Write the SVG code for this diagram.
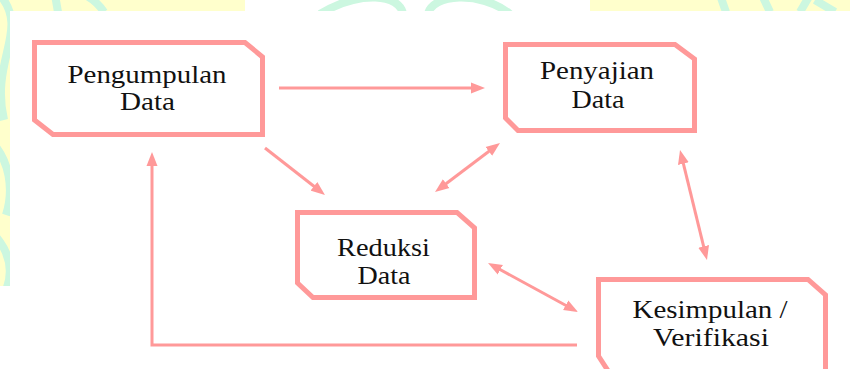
<svg xmlns="http://www.w3.org/2000/svg" width="850" height="369" viewBox="0 0 850 369">
  <style>
    .box { fill: #ffffff; stroke: #ff9999; stroke-width: 5; stroke-linejoin: miter; }
    .lbl { font-family: "Liberation Serif", "Times New Roman", serif; font-size: 26px; fill: #111111; text-anchor: middle; }
    .con { fill: none; stroke: #ff9999; stroke-width: 3; }
    .wm-y { fill: #ffffcc; }
    .wm-g { fill: none; stroke: #ccf7e0; stroke-width: 8; }
  </style>
  <defs>
    <marker id="ah" markerUnits="userSpaceOnUse" markerWidth="15" markerHeight="12" viewBox="0 0 15 12" refX="4" refY="6" orient="auto-start-reverse">
      <path d="M0,0.5 L14,6 L0,11.5 z" fill="#ff9999"/>
    </marker>
    <clipPath id="strip">
      <rect x="0" y="0" width="850" height="11"/>
      <rect x="0" y="0" width="10" height="286"/>
    </clipPath>
  </defs>

  <rect x="0" y="0" width="850" height="369" fill="#ffffff"/>

  <g id="watermark" clip-path="url(#strip)">
    <rect class="wm-y" x="0" y="0" width="245" height="11"/>
    <rect class="wm-y" x="590" y="0" width="260" height="11"/>
    <rect class="wm-y" x="0" y="0" width="10" height="286"/>
    <path class="wm-g" d="M0,-5 C30,30 -10,60 4,120"/>
    <path class="wm-g" d="M-10,140 C10,160 14,190 6,215"/>
    <path class="wm-g" d="M-10,230 C10,250 14,270 6,290"/>
    <path class="wm-g" d="M55,-5 L58,12"/>
    <path class="wm-g" d="M85,-5 C95,0 100,6 104,12"/>
    <path class="wm-g" d="M320,14 C360,-10 400,-6 403,14"/>
    <path class="wm-g" d="M428,14 C432,-6 480,-10 510,14"/>
    <path class="wm-g" d="M720,-5 L726,12"/>
    <path class="wm-g" d="M762,-5 L770,12"/>
    <path class="wm-g" d="M800,12 L810,-5"/>
    <path class="wm-g" d="M815,0 L835,12"/>
  </g>

  <g id="connectors">
    <line class="con" x1="279" y1="88" x2="475" y2="88" marker-end="url(#ah)"/>
    <line class="con" x1="265" y1="148" x2="317.1" y2="188.8" marker-end="url(#ah)"/>
    <line class="con" x1="492" y1="149" x2="443" y2="186" marker-start="url(#ah)" marker-end="url(#ah)"/>
    <line class="con" x1="496.8" y1="267.8" x2="569.2" y2="307.2" marker-start="url(#ah)" marker-end="url(#ah)"/>
    <line class="con" x1="682.4" y1="159.7" x2="704.6" y2="250.3" marker-start="url(#ah)" marker-end="url(#ah)"/>
    <polyline class="con" points="577,345 152,345 152,162" marker-end="url(#ah)"/>
  </g>

  <g id="pengumpulan">
    <polygon class="box" points="34.5,42.5 245,42.5 262.5,57 262.5,134.5 53,134.5 34.5,120"/>
    <text class="lbl" x="147" y="83" textLength="159" lengthAdjust="spacingAndGlyphs">Pengumpulan</text>
    <text class="lbl" x="147.5" y="110" textLength="55" lengthAdjust="spacingAndGlyphs">Data</text>
  </g>

  <g id="penyajian">
    <polygon class="box" points="505.5,44.5 675,44.5 694.5,59 694.5,130.5 518,130.5 505.5,118"/>
    <text class="lbl" x="597" y="79" textLength="114" lengthAdjust="spacingAndGlyphs">Penyajian</text>
    <text class="lbl" x="598" y="108" textLength="53" lengthAdjust="spacingAndGlyphs">Data</text>
  </g>

  <g id="reduksi">
    <polygon class="box" points="297.5,212.5 457,212.5 474.5,228 474.5,297.5 313,297.5 297.5,283"/>
    <text class="lbl" x="383.5" y="256" textLength="93" lengthAdjust="spacingAndGlyphs">Reduksi</text>
    <text class="lbl" x="384" y="284" textLength="53" lengthAdjust="spacingAndGlyphs">Data</text>
  </g>

  <g id="kesimpulan">
    <polygon class="box" points="598.5,279.5 808,279.5 825.5,295 825.5,380 614,380 598.5,356"/>
    <text class="lbl" x="710" y="318" textLength="155" lengthAdjust="spacingAndGlyphs">Kesimpulan /</text>
    <text class="lbl" x="711" y="346" textLength="116" lengthAdjust="spacingAndGlyphs">Verifikasi</text>
  </g>
</svg>
